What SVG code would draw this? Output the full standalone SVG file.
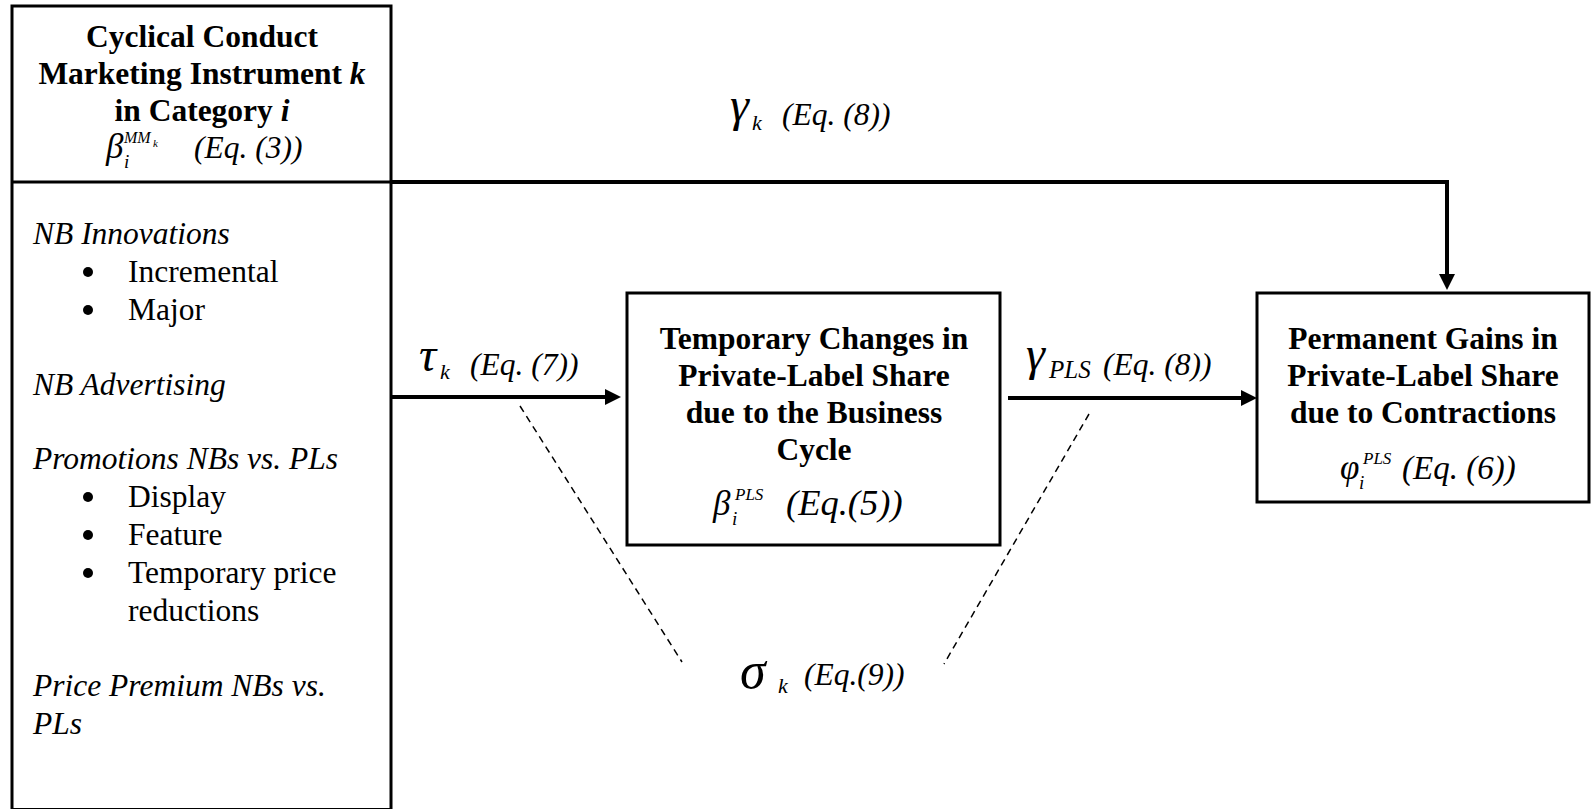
<svg xmlns="http://www.w3.org/2000/svg" width="1591" height="809" viewBox="0 0 1591 809">
  <style>
    .box { fill: #fff; stroke: #000; stroke-width: 3; }
    .t { font-family: "Liberation Serif", "Times New Roman", serif; font-size: 31.5px; fill: #000; }
    .b { font-weight: bold; }
    .i { font-style: italic; }
    .mid { text-anchor: middle; }
    .eq { font-family: "Liberation Serif", "Times New Roman", serif; font-style: italic; font-size: 35px; fill: #000; }
    .greek { font-family: "Liberation Serif", "Times New Roman", serif; font-style: italic; font-size: 48px; fill: #000; }
    .sub { font-family: "Liberation Serif", "Times New Roman", serif; font-style: italic; font-size: 22px; fill: #000; }
    .sup { font-family: "Liberation Serif", "Times New Roman", serif; font-style: italic; font-size: 17px; fill: #000; }
    .flow { fill: none; stroke: #000; stroke-width: 4; }
    .dash { fill: none; stroke: #000; stroke-width: 1.5; stroke-dasharray: 7 5; }
  </style>
  <defs>
    <marker id="arrow" markerUnits="userSpaceOnUse" markerWidth="18" markerHeight="18" refX="4" refY="8" orient="auto">
      <path d="M0,0 L16,8 L0,16 z" fill="#000"/>
    </marker>
  </defs>

  <rect width="1591" height="809" fill="#fff"/>

  <!-- Left node: marketing instrument with list of instruments -->
  <g id="node-instrument">
    <rect class="box" x="12" y="6" width="379" height="803.5"/>
    <line x1="12" y1="182" x2="391" y2="182" stroke="#000" stroke-width="3"/>
    <text class="t b mid" x="202" y="47">Cyclical Conduct</text>
    <text class="t b mid" x="202" y="84">Marketing Instrument <tspan class="i">k</tspan></text>
    <text class="t b mid" x="202" y="121">in Category <tspan class="i">i</tspan></text>
    <text class="t i" x="106" y="158" style="font-size:35px">β</text>
    <text class="sub" x="124" y="168" style="font-size:19px">i</text>
    <text class="sup" x="124" y="143" style="font-size:16px">MM</text>
    <text class="sup" x="153" y="147" style="font-size:11px">k</text>
    <text class="t i" x="194" y="158">(Eq. (3))</text>

    <text class="t i" x="33" y="244">NB Innovations</text>
    <circle cx="88" cy="272" r="5"/>
    <text class="t" x="128" y="282">Incremental</text>
    <circle cx="88" cy="310" r="5"/>
    <text class="t" x="128" y="320">Major</text>

    <text class="t i" x="33" y="395">NB Advertising</text>

    <text class="t i" x="33" y="469">Promotions NBs vs. PLs</text>
    <circle cx="88" cy="497" r="5"/>
    <text class="t" x="128" y="507">Display</text>
    <circle cx="88" cy="535" r="5"/>
    <text class="t" x="128" y="545">Feature</text>
    <circle cx="88" cy="573" r="5"/>
    <text class="t" x="128" y="583">Temporary price</text>
    <text class="t" x="128" y="621">reductions</text>

    <text class="t i" x="33" y="696">Price Premium NBs vs.</text>
    <text class="t i" x="33" y="734">PLs</text>
  </g>

  <!-- Middle node: temporary changes -->
  <g id="node-temporary">
    <rect class="box" x="627" y="293" width="373" height="252"/>
    <text class="t b mid" x="814" y="349">Temporary Changes in</text>
    <text class="t b mid" x="814" y="386">Private-Label Share</text>
    <text class="t b mid" x="814" y="423">due to the Business</text>
    <text class="t b mid" x="814" y="460">Cycle</text>
    <text class="eq" x="713" y="515">β</text>
    <text class="sub" x="732" y="525" style="font-size:19px">i</text>
    <text class="sup" x="735" y="500">PLS</text>
    <text class="eq" x="786" y="515" style="font-size:36.5px">(Eq.(5))</text>
  </g>

  <!-- Right node: permanent gains -->
  <g id="node-permanent">
    <rect class="box" x="1257" y="293" width="332" height="209"/>
    <text class="t b mid" x="1423" y="349">Permanent Gains in</text>
    <text class="t b mid" x="1423" y="386">Private-Label Share</text>
    <text class="t b mid" x="1423" y="423">due to Contractions</text>
    <text class="eq" x="1340" y="479">φ</text>
    <text class="sub" x="1359" y="489" style="font-size:19px">i</text>
    <text class="sup" x="1363" y="464">PLS</text>
    <text class="eq" x="1402" y="479" style="font-size:33px">(Eq. (6))</text>
  </g>

  <!-- Connectors -->
  <g id="connectors">
    <path class="flow" d="M391,182 H1447 V278" marker-end="url(#arrow)"/>
    <path class="flow" d="M391,397 H609" marker-end="url(#arrow)"/>
    <path class="flow" d="M1008,398 H1245" marker-end="url(#arrow)"/>
    <line class="dash" x1="520" y1="406" x2="682" y2="662"/>
    <line class="dash" x1="1089" y1="414" x2="944" y2="664"/>
  </g>

  <!-- Connector labels -->
  <g id="labels">
    <text class="greek" x="730" y="121">γ</text>
    <text class="sub" x="752" y="130">k</text>
    <text class="t i" x="782" y="125">(Eq. (8))</text>

    <text class="greek" x="419" y="371">τ</text>
    <text class="sub" x="440" y="379">k</text>
    <text class="t i" x="470" y="375">(Eq. (7))</text>

    <text class="greek" x="1026" y="370">γ</text>
    <text class="sub" x="1049" y="378" style="font-size:25px">PLS</text>
    <text class="t i" x="1103" y="375">(Eq. (8))</text>

    <text class="greek" x="740" y="688" style="font-size:52px">σ</text>
    <text class="sub" x="778" y="693">k</text>
    <text class="t i" x="804" y="685">(Eq.(9))</text>
  </g>
</svg>
